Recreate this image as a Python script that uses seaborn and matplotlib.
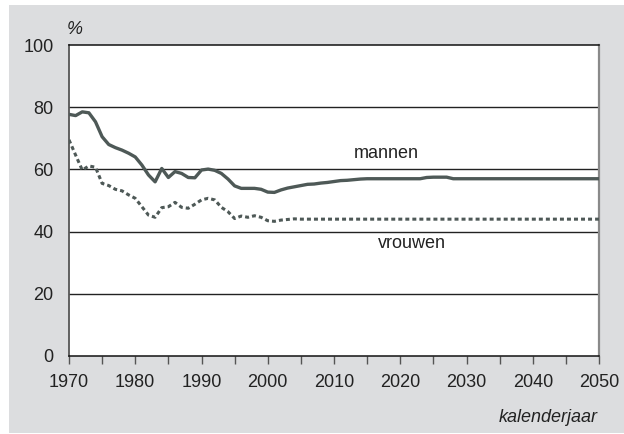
import numpy as np
import pandas as pd
import matplotlib
matplotlib.use("Agg")
import matplotlib.pyplot as plt
from matplotlib.patches import Rectangle
import seaborn as sns

# Arbeidsparticipatie per geslacht, 1970-2050 (%)
years = list(range(1970, 2051))

mannen = [
    77.7, 77.3, 78.5, 78.2, 75.3, 70.5, 68.0, 67.0, 66.2, 65.2,   # 1970-1979
    64.0, 61.4, 58.2, 56.0, 60.3, 57.4, 59.3, 58.7, 57.4, 57.3,   # 1980-1989
    59.8, 60.1, 59.7, 58.7, 56.9, 54.7, 53.9, 53.9, 53.9, 53.6,   # 1990-1999
    52.7, 52.6, 53.4, 54.0, 54.4, 54.8, 55.2, 55.3, 55.6, 55.8,   # 2000-2009
    56.1, 56.4, 56.5, 56.7, 56.9, 57.0, 57.0, 57.0, 57.0, 57.0,   # 2010-2019
    57.0, 57.0, 57.0, 57.0, 57.4, 57.5, 57.5, 57.5, 57.0, 57.0,   # 2020-2029
    57.0, 57.0, 57.0, 57.0, 57.0, 57.0, 57.0, 57.0, 57.0, 57.0,   # 2030-2039
    57.0, 57.0, 57.0, 57.0, 57.0, 57.0, 57.0, 57.0, 57.0, 57.0,   # 2040-2049
    57.0,                                                         # 2050
]

vrouwen = [
    69.5, 64.6, 59.8, 61.1, 60.7, 55.5, 54.8, 53.6, 53.1, 51.8,   # 1970-1979
    50.7, 48.0, 45.3, 44.6, 47.7, 48.0, 49.4, 47.8, 47.5, 48.8,   # 1980-1989
    50.2, 50.7, 50.2, 47.8, 46.4, 44.2, 45.0, 44.6, 45.1, 44.6,   # 1990-1999
    43.5, 43.3, 43.7, 43.9, 44.1, 44.0, 44.0, 44.0, 44.0, 44.0,   # 2000-2009
    44.0, 44.0, 44.0, 44.0, 44.0, 44.0, 44.0, 44.0, 44.0, 44.0,   # 2010-2019
    44.0, 44.0, 44.0, 44.0, 44.0, 44.0, 44.0, 44.0, 44.0, 44.0,   # 2020-2029
    44.0, 44.0, 44.0, 44.0, 44.0, 44.0, 44.0, 44.0, 44.0, 44.0,   # 2030-2039
    44.0, 44.0, 44.0, 44.0, 44.0, 44.0, 44.0, 44.0, 44.0, 44.0,   # 2040-2049
    44.0,                                                         # 2050
]

x_ticks = [1970, 1980, 1990, 2000, 2010, 2020, 2030, 2040, 2050]
y_ticks = [0, 20, 40, 60, 80, 100]

df = pd.DataFrame({"jaar": years, "mannen": mannen, "vrouwen": vrouwen})

sns.set_theme(style="white")
plt.rcParams["font.family"] = ["Liberation Sans", "DejaVu Sans"]

line_col = "#4e5957"
text_col = "#222222"
panel_col = "#dcdddf"
fs = 13

fig = plt.figure(figsize=(6.24, 4.34), dpi=100)
fig.patch.set_facecolor("white")

# grey panel behind the chart
bg = fig.add_axes([0, 0, 1, 1], zorder=-10)
bg.set_axis_off()
bg.set_xlim(0, 624)
bg.set_ylim(434, 0)
bg.add_patch(Rectangle((9, 5), 615, 428, facecolor=panel_col, edgecolor="none"))

ax = fig.add_axes([69 / 624, (434 - 356) / 434, 530 / 624, 311 / 434], zorder=1)
ax.set_facecolor("white")

sns.lineplot(data=df, x="jaar", y="mannen", ax=ax, color=line_col,
             linewidth=2.4, solid_capstyle="butt", zorder=3)
sns.lineplot(data=df, x="jaar", y="vrouwen", ax=ax, color=line_col,
             linewidth=2.2, zorder=3)
ax.lines[-1].set_dashes((1.3, 1.0))
ax.lines[-1].set_dash_capstyle("butt")

ax.set_xlim(1970, 2050)
ax.set_ylim(0, 100)
ax.set_xticks(np.arange(1970, 2051, 5))
ax.set_xticklabels([str(t) if t in x_ticks else "" for t in range(1970, 2051, 5)])
ax.set_yticks(y_ticks)
ax.set_yticklabels([str(t) for t in y_ticks])

for yv in y_ticks[1:-1]:
    ax.axhline(yv, color="#222222", linewidth=1.0, zorder=1)

ax.tick_params(axis="x", direction="out", length=6, width=1, color="#555555",
               labelsize=fs, labelcolor=text_col, pad=7, bottom=True)
ax.tick_params(axis="y", length=0, labelsize=fs, labelcolor=text_col, pad=11)

for side in ["top", "bottom"]:
    ax.spines[side].set_color("#111111")
    ax.spines[side].set_linewidth(1.1)
ax.spines["left"].set_color("#555555")
ax.spines["left"].set_linewidth(1.3)
ax.spines["right"].set_color("#8a8a8a")
ax.spines["right"].set_linewidth(1.6)
for s in ax.spines.values():
    s.set_visible(True)

ax.set_xlabel("")
ax.set_ylabel("")

fig.text(386 / 624, 1 - 154 / 434, "mannen", fontsize=fs, color=text_col,
         ha="center", va="center")
fig.text(412 / 624, 1 - 244 / 434, "vrouwen", fontsize=fs, color=text_col,
         ha="center", va="center")
fig.text(75 / 624, 1 - 30 / 434, "%", fontsize=fs, color=text_col,
         ha="center", va="center", style="italic")
fig.text(598 / 624, 1 - 418 / 434, "kalenderjaar", fontsize=fs,
         color=text_col, ha="right", va="center", style="italic")

fig.savefig("out.png", dpi=100)
